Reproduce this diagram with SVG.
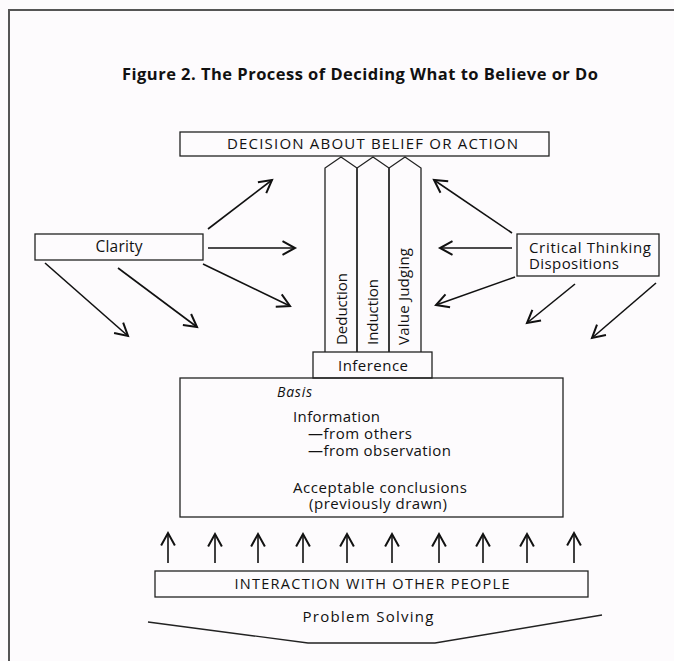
<svg xmlns="http://www.w3.org/2000/svg" width="674" height="661" viewBox="0 0 674 661">
<style>
text{font-family:"Open Sans","Noto Sans","DejaVu Sans",sans-serif;fill:#111;}
.box{fill:none;stroke:#222;stroke-width:1.3;}
.arr{fill:none;stroke:#111;stroke-width:1.6;marker-end:url(#ah);}
.frame{fill:none;stroke:#555;stroke-width:2;}
</style>
<defs>
<marker id="ah" markerUnits="userSpaceOnUse" markerWidth="20" markerHeight="20" refX="0" refY="0" viewBox="-12 -8 14 16" orient="auto" overflow="visible">
<path d="M-10,-5.5 L0,0 L-10,5.5" fill="none" stroke="#111" stroke-width="1.6"/>
</marker>
</defs>
<rect width="674" height="661" fill="#fdfbfd"/>
<path class="frame" d="M674,10 L9,10 L9,661"/>
<text x="360" y="80" text-anchor="middle" font-size="16.5" font-weight="bold" textLength="476">Figure 2. The Process of Deciding What to Believe or Do</text>

<g id="decision">
<rect class="box" x="180" y="132" width="369" height="24"/>
<text x="372.5" y="149" text-anchor="middle" font-size="15" textLength="291">DECISION ABOUT BELIEF OR ACTION</text>
</g>
<g id="deduction">
<path class="box" d="M325,352 L325,168 L341,157 L357,168 L357,352"/>
<text transform="translate(347,345) rotate(-90)" font-size="15" textLength="72">Deduction</text>
</g>
<g id="induction">
<path class="box" d="M357,352 L357,168 L373,157 L389,168 L389,352"/>
<text transform="translate(378,345) rotate(-90)" font-size="15" textLength="66">Induction</text>
</g>
<g id="value-judging">
<path class="box" d="M389,352 L389,168 L405,157 L421,168 L421,352"/>
<text transform="translate(409,345) rotate(-90)" font-size="15" textLength="97">Value Judging</text>
</g>
<g id="inference">
<rect class="box" x="313" y="352" width="119" height="26"/>
<text x="373" y="371" text-anchor="middle" font-size="15" textLength="70">Inference</text>
</g>
<g id="basis">
<rect class="box" x="180" y="378" width="383" height="139"/>
<text x="277" y="397" font-size="14" font-style="italic" textLength="35">Basis</text>
<text x="293" y="422" font-size="15" textLength="87">Information</text>
<text x="308" y="439" font-size="15" textLength="104">—from others</text>
<text x="308" y="456" font-size="15" textLength="143">—from observation</text>
<text x="380" y="493" text-anchor="middle" font-size="15" textLength="174">Acceptable conclusions</text>
<text x="378" y="509" text-anchor="middle" font-size="15" textLength="138">(previously drawn)</text>
</g>
<g id="clarity">
<rect class="box" x="35" y="234" width="168" height="26"/>
<text x="119" y="252" text-anchor="middle" font-size="15.5" textLength="47">Clarity</text>
</g>
<g id="dispositions">
<rect class="box" x="517" y="234" width="142" height="42"/>
<text x="529" y="253" font-size="15" textLength="122">Critical Thinking</text>
<text x="529" y="269" font-size="15" textLength="90">Dispositions</text>
</g>
<g id="interaction">
<rect class="box" x="155" y="571" width="433" height="26"/>
<text x="372" y="589" text-anchor="middle" font-size="14.5" textLength="275">INTERACTION WITH OTHER PEOPLE</text>
</g>
<g id="problem-solving">
<path fill="none" stroke="#222" stroke-width="1.4" d="M148,622 L308,643 L435,643 L602,615"/>
<text x="368" y="622" text-anchor="middle" font-size="15" textLength="131">Problem Solving</text>
</g>
<g id="connectors">
<line class="arr" x1="208" y1="229" x2="272" y2="180"/>
<line class="arr" x1="208" y1="248" x2="295" y2="248"/>
<line class="arr" x1="203" y1="264" x2="290" y2="306"/>
<line class="arr" x1="45" y1="263" x2="128" y2="336"/>
<line class="arr" x1="118" y1="268" x2="197" y2="327"/>
<line class="arr" x1="512" y1="233" x2="434" y2="180"/>
<line class="arr" x1="512" y1="248" x2="440" y2="248"/>
<line class="arr" x1="515" y1="277" x2="436" y2="305"/>
<line class="arr" x1="575" y1="284" x2="527" y2="323"/>
<line class="arr" x1="656" y1="283" x2="592" y2="338"/>
<line class="arr" x1="168" y1="563" x2="168" y2="533"/>
<line class="arr" x1="215" y1="563" x2="215" y2="534"/>
<line class="arr" x1="258" y1="563" x2="258" y2="534"/>
<line class="arr" x1="303" y1="563" x2="303" y2="534"/>
<line class="arr" x1="347" y1="563" x2="347" y2="534"/>
<line class="arr" x1="392" y1="563" x2="392" y2="534"/>
<line class="arr" x1="439" y1="563" x2="439" y2="534"/>
<line class="arr" x1="483" y1="563" x2="483" y2="534"/>
<line class="arr" x1="527" y1="563" x2="527" y2="534"/>
<line class="arr" x1="574" y1="563" x2="574" y2="533"/>
</g>
</svg>
